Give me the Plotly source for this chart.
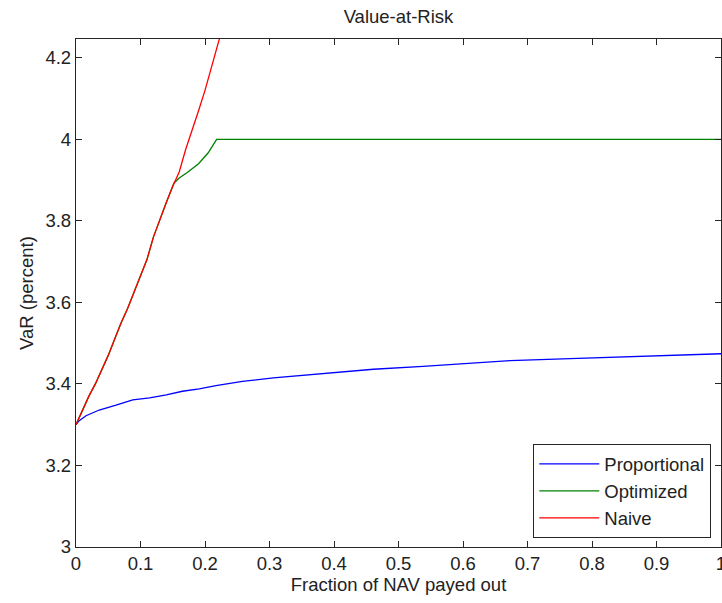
import plotly.graph_objects as go

# ---- data ----
naive_x = [0, 0.01, 0.02, 0.03, 0.04, 0.05, 0.06, 0.07, 0.08, 0.09, 0.10, 0.11,
           0.12, 0.13, 0.14, 0.15, 0.16, 0.17, 0.18, 0.19, 0.20, 0.21, 0.22, 0.23]
naive_y = [3.30, 3.335, 3.37, 3.40, 3.435, 3.47, 3.51, 3.55, 3.585, 3.625, 3.665, 3.705,
           3.76, 3.805, 3.845, 3.885, 3.92, 3.975, 4.02, 4.07, 4.12, 4.175, 4.235, 4.29]

opt_x = [0, 0.01, 0.02, 0.03, 0.04, 0.05, 0.06, 0.07, 0.08, 0.09, 0.10, 0.11,
         0.12, 0.13, 0.14, 0.152, 0.16, 0.172, 0.19, 0.205, 0.212, 0.218, 1.0]
opt_y = [3.30, 3.335, 3.37, 3.40, 3.435, 3.47, 3.51, 3.55, 3.585, 3.625, 3.665, 3.705,
         3.76, 3.805, 3.845, 3.893, 3.905, 3.918, 3.94, 3.967, 3.985, 4.0, 4.0]

prop_x = [0, 0.005, 0.0155, 0.036, 0.062, 0.088, 0.114, 0.14, 0.165, 0.191, 0.217,
          0.258, 0.306, 0.383, 0.461, 0.538, 0.611, 0.673, 0.766, 0.854, 0.942, 1.0]
prop_y = [3.30, 3.31, 3.322, 3.336, 3.348, 3.361, 3.366, 3.373, 3.382, 3.388, 3.396,
          3.406, 3.415, 3.426, 3.436, 3.443, 3.450, 3.457, 3.462, 3.467, 3.472, 3.474]

x_ticks = [0, 0.1, 0.2, 0.3, 0.4, 0.5, 0.6, 0.7, 0.8, 0.9, 1.0]
y_ticks = [3, 3.2, 3.4, 3.6, 3.8, 4.0, 4.2]

FONT = "Liberation Sans, Arial, sans-serif"
AX = "#262626"

fig = go.Figure()
fig.add_trace(go.Scatter(x=prop_x, y=prop_y, mode="lines", name="Proportional",
                         line=dict(color="#0000FF", width=1.3)))
fig.add_trace(go.Scatter(x=opt_x, y=opt_y, mode="lines", name="Optimized",
                         line=dict(color="#008000", width=1.3)))
fig.add_trace(go.Scatter(x=naive_x, y=naive_y, mode="lines", name="Naive",
                         line=dict(color="#FF0000", width=1.3)))

axis_common = dict(showgrid=False, zeroline=False, showline=True, linecolor=AX,
                   linewidth=1.3, mirror="ticks", ticks="inside", ticklen=6,
                   tickcolor=AX, tickwidth=1.3, ticklabeloverflow="allow",
                   automargin=False,
                   tickfont=dict(family=FONT, size=18.5, color="#222"))

fig.update_layout(
    width=722, height=603,
    margin=dict(l=76, r=1, t=39, b=56, autoexpand=False),
    paper_bgcolor="white", plot_bgcolor="white",
    font=dict(family=FONT, size=18.5, color="#222"),
    title=dict(text="Value-at-Risk", x=(76 + 721) / 2 / 722, xanchor="center",
               y=1 - 17 / 603, yanchor="middle", yref="container",
               font=dict(family=FONT, size=18.5, color="#222")),
    xaxis=dict(range=[0, 1], tickvals=x_ticks, ticktext=[f"{v:g}" for v in x_ticks],
               title=dict(text="Fraction of NAV payed out", standoff=4,
                          font=dict(family=FONT, size=18.5, color="#222")),
               **axis_common),
    yaxis=dict(range=[3, 4.246], tickvals=y_ticks, ticktext=[f"{v:g}" for v in y_ticks],
               title=dict(text="VaR (percent)", standoff=6,
                          font=dict(family=FONT, size=18.5, color="#222")),
               **axis_common),
    legend=dict(x=0.9845, xanchor="right", y=0.0177, yanchor="bottom",
                bgcolor="white", bordercolor=AX, borderwidth=1.3,
                font=dict(family=FONT, size=18.5, color="#222"),
                itemwidth=60),
    showlegend=True,
)

fig.write_html("out.html")
